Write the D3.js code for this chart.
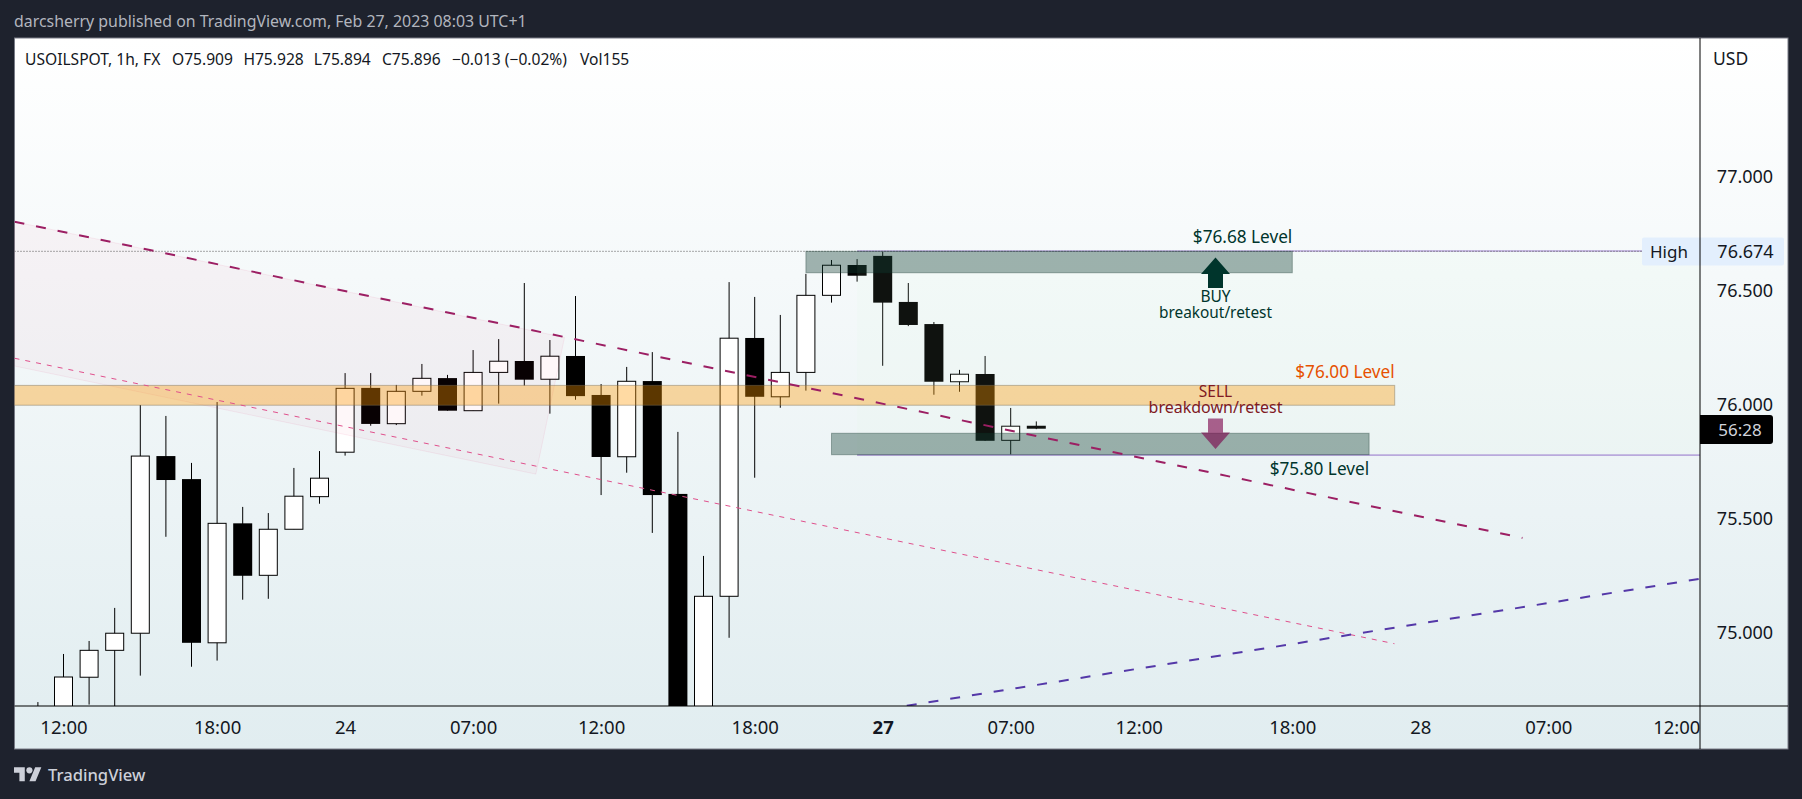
<!DOCTYPE html>
<html><head><meta charset="utf-8">
<script src="https://cdn.jsdelivr.net/npm/d3@7/dist/d3.min.js"></script>
<style>
html,body{margin:0;padding:0;background:#1e222d;overflow:hidden}
svg{display:block}
text{font-family:"Noto Sans",sans-serif}
</style></head><body>
<svg id="c" width="1802" height="799"></svg>
<script>
// --- data ---
const firstBar = -1;
const opens  = [74.62,74.65,74.806,74.924,74.999,75.776,75.675,74.957,75.481,75.253,75.455,75.598,75.793,76.075,75.918,76.060,76.118,75.975,76.143,76.193,76.113,76.215,76.044,75.773,76.105,75.610,74.55,75.161,76.294,76.036,76.143,76.481,76.614,76.654,76.452,76.355,76.102,76.136,75.845,75.909];
const highs  = [74.697,74.908,74.965,75.110,76.000,75.952,75.746,76.013,75.553,75.526,75.724,75.798,76.140,76.140,76.088,76.180,76.132,76.241,76.289,76.535,76.285,76.478,76.092,76.167,76.232,75.882,75.338,76.539,76.474,76.395,76.575,76.636,76.640,76.674,76.535,76.364,76.154,76.215,75.987,75.928];
const lows   = [74.60,74.62,74.686,74.66,74.813,75.422,74.852,74.879,75.146,75.150,75.455,75.567,75.778,75.909,75.912,76.041,75.975,75.975,76.006,76.085,75.962,76.023,75.605,75.703,75.439,74.50,74.50,74.979,75.681,75.988,76.063,76.449,76.541,76.172,76.346,76.045,76.058,75.843,75.778,75.894];
const closes = [74.65,74.807,74.924,74.999,75.776,75.671,74.957,75.481,75.251,75.455,75.600,75.679,76.073,75.917,76.060,76.117,75.975,76.143,76.192,76.111,76.214,76.039,75.772,76.104,75.605,74.60,75.161,76.293,76.036,76.143,76.481,76.613,76.567,76.449,76.351,76.102,76.135,75.843,75.907,75.896];

const priceTicks = [75,75.5,76,76.5,77];
const timeTickBars = [0,6,11,16,21,27,32,37,42,48,53,58,63];
const timeTickLabels = ["12:00","18:00","24","07:00","12:00","18:00","27","07:00","12:00","18:00","28","07:00","12:00"];
const boldTimeLabel = "27";

const trendThick = [[-1.914,76.804],[56.99,75.417]];
const trendThin  = [[-1.914,76.205],[51.99,74.953]];
const trendBlue  = [[32.94,74.681],[63.93,75.238]];
const channelPoly = [[-1.914,76.804],[19.57,76.296],[18.45,75.697],[-1.914,76.171]];

const zoneOrange = {from:-4,to:52,top:76.086,bottom:75.999};
const zoneUpper  = {from:29,to:48,top:76.674,bottom:76.58};
const zoneLower  = {from:30,to:51,top:75.876,bottom:75.782};
const rangeTop = 76.674, rangeBottom = 75.78, rangeStart = 31;
const arrowBar = 45;

const titleText = "darcsherry published on TradingView.com, Feb 27, 2023 08:03 UTC+1";
const legendParts = ["USOILSPOT, 1h, FX","O75.909","H75.928","L75.894","C75.896","\u22120.013 (\u22120.02%)","Vol155"];
const legendX = [25,172,243.4,313.8,382,452,580];

// --- layout ---
const svg = d3.select("#c");
const F = {l:14.5,t:38,r:1788,b:749}, P = {r:1700,b:706};
const x = d3.scaleLinear().domain([0,63]).range([63.5,1676.3]);
const y = d3.scaleLinear().domain([75,77]).range([633,177]);
const barIdx = opens.map((_,i)=>i+firstBar);

const defs = svg.append("defs");
const g = defs.append("linearGradient").attr("id","bg").attr("x1",0).attr("x2",0).attr("y1",0).attr("y2",1);
g.append("stop").attr("offset",0).attr("stop-color","#ffffff");
g.append("stop").attr("offset",1).attr("stop-color","#e1edf0");
defs.append("clipPath").attr("id","plot").append("rect").attr("x",F.l).attr("y",F.t).attr("width",P.r-F.l).attr("height",P.b-F.t);

svg.append("text").attr("x",14).attr("y",26.5).attr("fill","#b2b5be").attr("font-size",15.9).text(titleText);

svg.append("rect").attr("x",F.l).attr("y",F.t).attr("width",F.r-F.l).attr("height",F.b-F.t)
  .attr("fill","url(#bg)").attr("stroke","#787b86").attr("stroke-width",1);

const plot = svg.append("g").attr("clip-path","url(#plot)");

// candles
plot.selectAll("line.wick").data(barIdx).join("line").attr("class","wick")
  .attr("x1",i=>x(i)).attr("x2",i=>x(i))
  .attr("y1",(i,k)=>y(highs[k])).attr("y2",(i,k)=>y(lows[k]))
  .attr("stroke","#000").attr("stroke-width",1);
plot.selectAll("rect.body").data(barIdx).join("rect").attr("class","body")
  .attr("x",(i,k)=>x(i)-(closes[k]>=opens[k]?9:9.5))
  .attr("width",(i,k)=>closes[k]>=opens[k]?18:19)
  .attr("y",(i,k)=>y(Math.max(opens[k],closes[k])))
  .attr("height",(i,k)=>Math.abs(y(opens[k])-y(closes[k])))
  .attr("fill",(i,k)=>closes[k]>=opens[k]?"#fff":"#000")
  .attr("stroke",(i,k)=>closes[k]>=opens[k]?"#000":"none")
  .attr("stroke-width",1);

// range overlay
plot.append("rect").attr("x",x(rangeStart)).attr("width",P.r-x(rangeStart))
  .attr("y",y(rangeTop)).attr("height",y(rangeBottom)-y(rangeTop))
  .attr("fill","rgba(215,255,215,0.07)");

// channel
const line = d3.line().x(d=>x(d[0])).y(d=>y(d[1]));
plot.append("path").attr("d",line(channelPoly)+"Z").attr("fill","rgba(233,30,99,0.035)").attr("stroke","rgba(233,30,99,0.07)").attr("stroke-width",1);

// high dotted & range lines
plot.append("line").attr("x1",x(rangeStart)).attr("x2",1642).attr("y1",y(rangeTop)-.4).attr("y2",y(rangeTop)-.4).attr("stroke","#b9a6dd").attr("stroke-width",1.6);
plot.append("line").attr("x1",F.l).attr("x2",1642).attr("y1",y(rangeTop)).attr("y2",y(rangeTop)).attr("stroke","#555").attr("stroke-width",1).attr("stroke-dasharray","1 2");
plot.append("line").attr("x1",x(rangeStart)).attr("x2",P.r).attr("y1",y(rangeBottom)).attr("y2",y(rangeBottom)).attr("stroke","#b9a9dc").attr("stroke-width",1.6);

// zones
const zone = (z,fill,stroke)=>plot.append("rect").attr("x",x(z.from)).attr("width",x(z.to)-x(z.from))
  .attr("y",y(z.top)).attr("height",y(z.bottom)-y(z.top)).attr("fill",fill).attr("stroke",stroke).attr("stroke-width",1);
zone(zoneOrange,"rgba(255,152,0,0.36)","rgba(120,110,90,0.45)");
zone(zoneUpper,"rgba(15,60,50,0.38)","rgba(15,50,40,0.35)");
zone(zoneLower,"rgba(15,60,50,0.38)","rgba(15,50,40,0.35)");

// trend lines
plot.append("path").attr("d",line(trendThin)).attr("fill","none").attr("stroke","#e0508c").attr("stroke-width",1).attr("stroke-dasharray","5 6");
plot.append("path").attr("d",line(trendThick)).attr("fill","none").attr("stroke","#9c1f63").attr("stroke-width",2).attr("stroke-dasharray","10 12");
plot.append("path").attr("d",line(trendBlue)).attr("fill","none").attr("stroke","#5438a8").attr("stroke-width",2).attr("stroke-dasharray","10 12");

// arrows
const ax = x(arrowBar);
plot.append("path").attr("d",`M${ax-7.5},418.5H${ax+7.5}V432.5H${ax+14.5}L${ax},449L${ax-14.5},432.5H${ax-7.5}Z`).attr("fill","rgba(123,0,72,0.61)");
plot.append("path").attr("d",`M${ax},257.5L${ax+14.5},274H${ax+7.5}V288H${ax-7.5}V274H${ax-14.5}Z`).attr("fill","#00352c");

// annotations
const note=(tx,ty,txt,fill,anchor,size)=>plot.append("text").attr("x",tx).attr("y",ty).attr("fill",fill).attr("text-anchor",anchor).attr("font-size",size).text(txt);
note(x(48),242.5,"$76.68 Level","#00352c","end",17.2);
note(ax,301.5,"BUY","#00352c","middle",15.5);
note(ax,317.5,"breakout/retest","#00352c","middle",15.4);
note(x(52),378,"$76.00 Level","#e65100","end",17.2);
note(ax,396.5,"SELL","#801922","middle",15.5);
note(ax,412.5,"breakdown/retest","#801922","middle",16);
note(x(51),475,"$75.80 Level","#00352c","end",17.2);

// axes
svg.append("line").attr("x1",F.l).attr("x2",F.r).attr("y1",P.b).attr("y2",P.b).attr("stroke","#000").attr("stroke-width",1.2);

// high label
svg.append("rect").attr("x",1642).attr("y",237.5).attr("width",142).attr("height",28).attr("rx",2).attr("fill","#e3effd");

svg.append("line").attr("x1",P.r).attr("x2",P.r).attr("y1",F.t).attr("y2",F.b).attr("stroke","#000").attr("stroke-width",1);

const xAxis = d3.axisBottom(x).tickValues(timeTickBars).tickSize(0).tickPadding(0)
  .tickFormat((d,i)=>timeTickLabels[i]);
const gx = svg.append("g").attr("transform",`translate(0,${P.b})`).call(xAxis);
gx.select(".domain").remove();
gx.selectAll("text").attr("y",0).attr("dy",0).attr("transform","translate(0,28)")
  .attr("font-family",'"Noto Sans",sans-serif').attr("font-size",18.5).attr("fill","#131722");
gx.selectAll("text").filter(function(){return this.textContent===boldTimeLabel}).attr("font-weight",700);

const yAxis = d3.axisRight(y).tickValues(priceTicks).tickSize(0).tickPadding(0).tickFormat(d3.format(".3f"));
const gy = svg.append("g").attr("transform",`translate(${1745},0)`).call(yAxis);
gy.select(".domain").remove();
gy.selectAll("text").attr("x",0).attr("text-anchor","middle").attr("font-family",'"Noto Sans",sans-serif').attr("font-size",18).attr("fill","#131722");

svg.append("text").attr("x",1713).attr("y",65).attr("font-size",17.5).attr("fill","#131722").text("USD");
svg.append("text").attr("x",1669).attr("y",257.5).attr("text-anchor","middle").attr("font-size",17).attr("fill","#131722").text("High");
svg.append("text").attr("x",1745.5).attr("y",258).attr("text-anchor","middle").attr("font-size",18).attr("fill","#131722").text("76.674");

// countdown
svg.append("path").attr("d","M1700,415H1770a3,3 0 0 1 3,3V441a3,3 0 0 1 -3,3H1700Z").attr("fill","#000");
svg.append("text").attr("x",1740).attr("y",435.7).attr("text-anchor","middle").attr("font-size",17).attr("fill","#d1d4dc").text("56:28");

// legend
svg.append("g").selectAll("text").data(legendParts).join("text").attr("x",(d,i)=>legendX[i]).attr("y",65).attr("font-size",15.6).attr("fill","#131722").text(d=>d);

// watermark
const wm = svg.append("g").attr("transform","translate(14,764.2) scale(0.77)").attr("fill","#cdd0d9");
wm.append("path").attr("d","M14 22H7V11H0V4h14v18zM28 22h-8l7.5-18h8L28 22z");
wm.append("circle").attr("cx",20).attr("cy",8).attr("r",4);
svg.append("text").attr("x",48).attr("y",780.6).attr("font-size",16.6).attr("font-weight",500).attr("fill","#cdd0d9").text("TradingView");
</script>
</body></html>
